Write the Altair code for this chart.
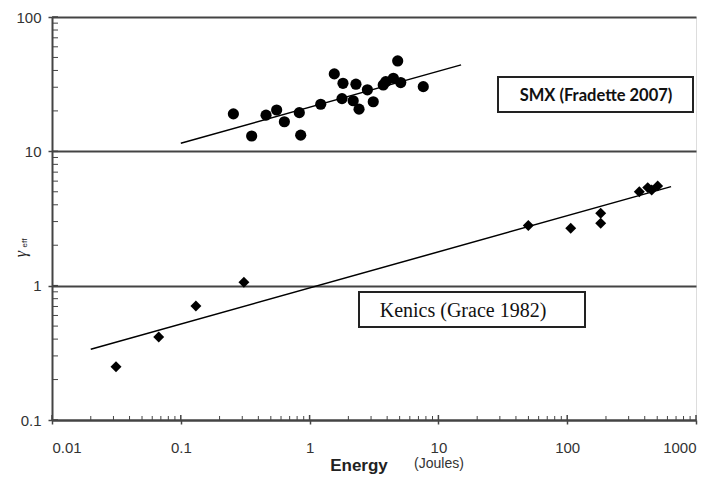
import altair as alt
import pandas as pd

# ---- data ----
smx_energy = [0.256, 0.355, 0.459, 0.555, 0.637, 0.832, 0.853, 1.22, 1.555, 1.816, 1.785,
              2.29, 2.18, 2.42, 2.81, 3.12, 3.73, 3.90, 4.47, 4.83, 5.10, 7.63]
smx_gamma = [19.0, 13.0, 18.6, 20.3, 16.6, 19.4, 13.2, 22.4, 37.7, 32.1, 24.7,
             31.6, 23.8, 20.6, 28.7, 23.4, 31.2, 33.0, 35.0, 47.1, 32.5, 30.3]
kenics_energy = [0.0314, 0.0674, 0.131, 0.309, 49.9, 106.5, 182, 182, 363, 422, 453, 504]
kenics_gamma = [0.249, 0.415, 0.706, 1.06, 2.80, 2.68, 3.46, 2.91, 5.01, 5.37, 5.16, 5.53]
smx_fit_energy = [0.1, 15]
smx_fit_gamma = [11.5, 44]
kenics_fit_energy = [0.02, 640]
kenics_fit_gamma = [0.336, 5.46]
x_ticks = [0.01, 0.1, 1, 10, 100, 1000]
y_ticks = [0.1, 1, 10, 100]
x_minor = [m * 10.0 ** k for k in range(-2, 3) for m in range(2, 10)]
y_minor = [m * 10.0 ** k for k in range(-1, 2) for m in range(2, 10)]
smx_label = "SMX (Fradette 2007)"
kenics_label = "Kenics (Grace 1982)"

W, H = 644, 403
AX = "#444444"

smx = pd.DataFrame({"energy": smx_energy, "gamma": smx_gamma})
ken = pd.DataFrame({"energy": kenics_energy, "gamma": kenics_gamma})
smx_fit = pd.DataFrame({"energy": smx_fit_energy, "gamma": smx_fit_gamma})
ken_fit = pd.DataFrame({"energy": kenics_fit_energy, "gamma": kenics_fit_gamma})
xmin = pd.DataFrame({"energy": x_minor})
ymin = pd.DataFrame({"gamma": y_minor})
xmaj = pd.DataFrame({"energy": x_ticks})
ymaj = pd.DataFrame({"gamma": y_ticks})

xs = alt.Scale(type="log", domain=[0.01, 1000], nice=False)
ys = alt.Scale(type="log", domain=[0.1, 100], nice=False)

x_axis = alt.Axis(values=x_ticks, format="~g", title=None, grid=False,
                  tickSize=4, tickColor=AX, tickWidth=1.5,
                  domainColor=AX, domainWidth=2,
                  labelFont="Liberation Sans", labelFontSize=15, labelColor="#333333",
                  labelPadding=16)
y_axis = alt.Axis(values=y_ticks, format="~g", title=None, grid=True,
                  gridColor=AX, gridWidth=2, gridOpacity=1,
                  tickSize=4, tickColor=AX, tickWidth=1.5,
                  domainColor=AX, domainWidth=2,
                  labelFont="Liberation Sans", labelFontSize=15, labelColor="#333333",
                  labelPadding=7)

X = alt.X("energy:Q", scale=xs, axis=x_axis)
Y = alt.Y("gamma:Q", scale=ys, axis=y_axis)

smx_pts = alt.Chart(smx).mark_circle(size=125, color="black", opacity=1).encode(x=X, y=Y)
ken_pts = alt.Chart(ken).mark_point(shape="diamond", filled=True, size=120,
                                    color="black", opacity=1).encode(x=X, y=Y)
smx_line = alt.Chart(smx_fit).mark_line(color="black", strokeWidth=1.5).encode(x=X, y=Y)
ken_line = alt.Chart(ken_fit).mark_line(color="black", strokeWidth=1.5).encode(x=X, y=Y)

# inner ticks (minor + inside part of major)
x_minor_ticks = alt.Chart(xmin).mark_rule(color=AX, strokeWidth=1).encode(
    x=X, y=alt.value(H), y2=alt.value(H - 4))
y_minor_ticks = alt.Chart(ymin).mark_rule(color=AX, strokeWidth=1).encode(
    y=Y, x=alt.value(0), x2=alt.value(6))
x_major_ticks = alt.Chart(xmaj).mark_rule(color=AX, strokeWidth=1.5).encode(
    x=X, y=alt.value(H), y2=alt.value(H - 5))
y_major_ticks = alt.Chart(ymaj).mark_rule(color=AX, strokeWidth=1.5).encode(
    y=Y, x=alt.value(0), x2=alt.value(6))

# annotation boxes
smx_df = pd.DataFrame({"label": [smx_label]})
ken_df = pd.DataFrame({"label": [kenics_label]})
smx_box = alt.Chart(smx_df).mark_rect(fill="white", stroke="#222222", strokeWidth=2).encode(
    x=alt.value(446), x2=alt.value(641), y=alt.value(60), y2=alt.value(95))
smx_txt = alt.Chart(smx_df).mark_text(font="Lato", fontWeight="bold", fontSize=16.5,
                                      color="#111111", align="center", baseline="middle").encode(
    x=alt.value(544), y=alt.value(79), text="label:N")
ken_box = alt.Chart(ken_df).mark_rect(fill="white", stroke="#222222", strokeWidth=2).encode(
    x=alt.value(307), x2=alt.value(533), y=alt.value(275), y2=alt.value(310))
ken_txt = alt.Chart(ken_df).mark_text(font="Liberation Serif", fontSize=20,
                                      color="#111111", align="center", baseline="middle").encode(
    x=alt.value(411), y=alt.value(294), text="label:N")

# axis titles
title_df = pd.DataFrame({"a": ["Energy"], "b": ["(Joules)"], "g": ["γ"], "e": ["eff"]})
energy_t = alt.Chart(title_df).mark_text(font="Liberation Sans", fontWeight="bold", fontSize=17,
                                         color="#222222", align="center", baseline="middle").encode(
    x=alt.value(307), y=alt.value(449), text="a:N")
joules_t = alt.Chart(title_df).mark_text(font="Liberation Sans", fontSize=14,
                                         color="#333333", align="center", baseline="middle").encode(
    x=alt.value(387), y=alt.value(447), text="b:N")
gamma_t = alt.Chart(title_df).mark_text(font="Liberation Serif", fontStyle="italic", fontSize=16,
                                        angle=270, color="#222222", align="center",
                                        baseline="middle").encode(
    x=alt.value(-31), y=alt.value(237), text="g:N")
eff_t = alt.Chart(title_df).mark_text(font="Liberation Sans", fontSize=8, angle=270,
                                      color="#222222", align="center", baseline="middle").encode(
    x=alt.value(-27), y=alt.value(226), text="e:N")

chart = alt.layer(
    x_minor_ticks, y_minor_ticks, x_major_ticks, y_major_ticks,
    smx_line, ken_line, smx_box, smx_txt, ken_box, ken_txt,
    smx_pts, ken_pts, energy_t, joules_t, gamma_t, eff_t,
).properties(
    width=W, height=H,
    autosize=alt.AutoSizeParams(type="none"),
    padding={"left": 44, "top": 9, "right": 11, "bottom": 55},
).configure_view(stroke="#999999", strokeWidth=1).configure(background="white")

chart.save("out.html", embed_options={"renderer": "svg", "actions": False})
